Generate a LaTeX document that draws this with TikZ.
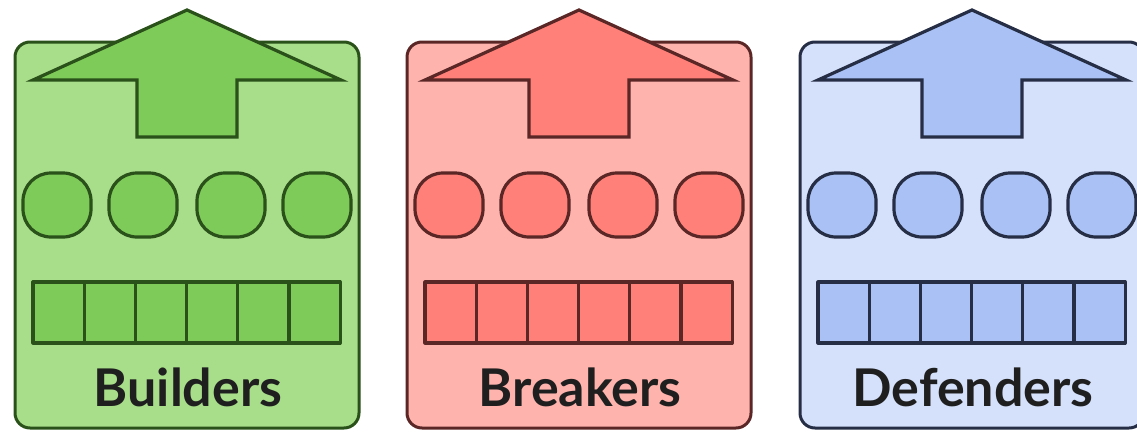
\documentclass[tikz,border=0pt]{standalone}
\usepackage{fontspec}
\setmainfont{Lato}
\definecolor{gL}{HTML}{A8DD8A}
\definecolor{gM}{HTML}{7FCB59}
\definecolor{gD}{HTML}{2A5119}
\definecolor{rL}{HTML}{FFB3AD}
\definecolor{rM}{HTML}{FF8078}
\definecolor{rD}{HTML}{5A2626}
\definecolor{bL}{HTML}{D5E1FB}
\definecolor{bM}{HTML}{A9C1F4}
\definecolor{bD}{HTML}{262E45}
\begin{document}
\begin{tikzpicture}[x=1pt,y=-1pt,line join=round,
  panelbox/.style={line width=3pt,rounded corners=15pt},
  arrowshape/.style={line width=3.2pt,line join=miter},
  blob/.style={line width=3.2pt,minimum width=68pt,minimum height=64pt,rounded corners=28pt,inner sep=0pt,rectangle},
  cell/.style={line width=3.2pt,minimum width=51.2pt,minimum height=61pt,inner sep=0pt,rectangle},
  lbl/.style={font=\fontsize{52}{52}\selectfont\bfseries,text=black!88,inner sep=0pt,anchor=base}]
\useasboundingbox (0,0) rectangle (1137,431);
\fill[white] (0,0) rectangle (1137,431);
\foreach \cx/\nm/\cl/\cm/\cd/\lab in {187/b/gL/gM/gD/Builders,579/r/rL/rM/rD/Breakers,972/d/bL/bM/bD/Defenders}{
  \draw[panelbox,fill=\cl,draw=\cd] (\cx-172,42) rectangle (\cx+172,428);
  \draw[arrowshape,fill=\cm,draw=\cd] (\cx,10) -- (\cx+154,80) -- (\cx+50,80) -- (\cx+50,137)
     -- (\cx-50,137) -- (\cx-50,80) -- (\cx-154,80) -- cycle;
  \foreach \dx [count=\i] in {-130,-44,44,130}
    \node[blob,fill=\cm,draw=\cd] (\nm s\i) at (\cx+\dx,205) {};
  \foreach \k in {0,...,5}
    \node[cell,fill=\cm,draw=\cd] (\nm c\k) at (\cx-154+25.6+51.2*\k,312.5) {};
  \node[lbl] (\nm t) at (\cx+1,406) {\lab};
}
\end{tikzpicture}
\end{document}
